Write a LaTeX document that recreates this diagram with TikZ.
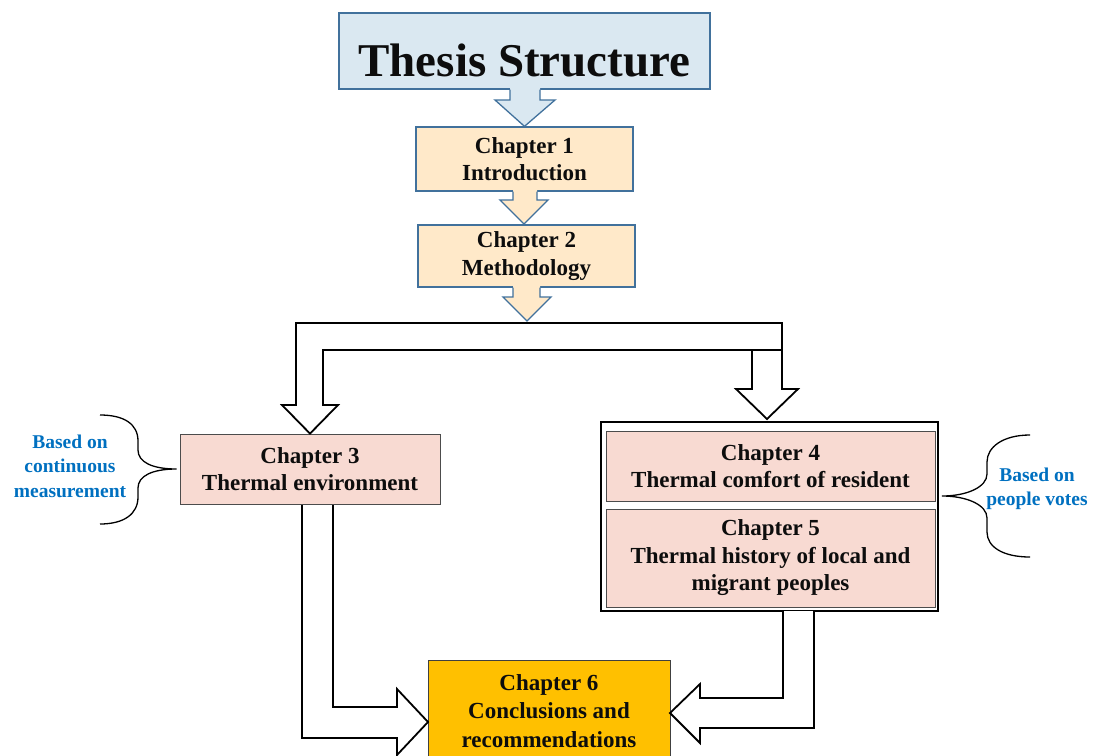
\documentclass[tikz,border=0pt]{standalone}
\usepackage{fontspec}
\setmainfont{Liberation Serif}
\usetikzlibrary{calc}
\definecolor{titlefill}{HTML}{DAE8F1}
\definecolor{steel}{HTML}{41719C}
\definecolor{peach}{HTML}{FFE9C9}
\definecolor{pinkfill}{HTML}{F8DAD2}
\definecolor{goldfill}{HTML}{FFC000}
\definecolor{noteblue}{HTML}{0070C0}
\begin{document}
\begin{tikzpicture}[x=1pt,y=-1pt,
  titlebox/.style={draw=steel, fill=titlefill, line width=1.5pt, inner sep=0pt,
    minimum width=371pt, minimum height=76pt, text=black!95,
    font=\fontsize{47}{50}\selectfont\bfseries, text height=50pt, text depth=0pt},
  chapbox/.style={draw=steel, fill=peach, line width=1.3pt, inner sep=0pt, align=center,
    text=black!95, font=\fontsize{23}{27.5}\selectfont\bfseries},
  pinkbox/.style={draw=black!70, fill=pinkfill, line width=0.8pt, inner sep=0pt, align=center,
    text=black!95, font=\fontsize{23}{27.5}\selectfont\bfseries},
  groupbox/.style={draw=black, line width=1.8pt, inner sep=0pt},
  goldbox/.style={draw=black!75, fill=goldfill, line width=0.8pt, inner sep=0pt, align=center,
    text=black!95, font=\fontsize{23}{28.5}\selectfont\bfseries},
  note/.style={text=noteblue, align=center, font=\fontsize{19.5}{24.5}\selectfont\bfseries},
  hollow/.style={draw=black, fill=white, line width=1.8pt, line join=miter},
  bluearrow/.style={draw=steel, line width=1.3pt, line join=miter},
  bracepath/.style={draw=black, line width=1.3pt}
]
\useasboundingbox (0,0) rectangle (1094,755);

% boxes
\node[titlebox] (title) at (524.5,51) {Thesis Structure};
\node[chapbox, minimum width=217pt, minimum height=64pt] (ch1) at (524.5,159) {Chapter 1\\Introduction};
\node[chapbox, minimum width=217pt, minimum height=62pt] (ch2) at (526.5,256) {Chapter 2\\Methodology};
\node[pinkbox, minimum width=260pt, minimum height=70pt] (ch3) at (310,469) {Chapter 3\\Thermal environment};
\node[groupbox, minimum width=337pt, minimum height=189pt] (grp) at (769.5,516.5) {};
\node[pinkbox, minimum width=329pt, minimum height=70pt] (ch4) at (770.5,466) {Chapter 4\\Thermal comfort of resident};
\node[pinkbox, minimum width=329pt, minimum height=98pt] (ch5) at (770.5,558) {Chapter 5\\Thermal history of local and\\migrant peoples};
\node[goldbox, minimum width=242pt, minimum height=101pt] (ch6) at (549,711) {Chapter 6\\Conclusions and\\recommendations};

% notes
\node[note] (n1) at (70,466) {Based on\\continuous\\measurement};
\node[note] (n2) at (1037,489) {Based on\\people votes};

% braces
\draw[bracepath] (100,415) .. controls (124,415) and (138,424) .. (138,441) -- (138,450)
  .. controls (138,462) and (152,469) .. ($(ch3.west)+(-3,0)$)
  .. controls (152,469) and (138,476) .. (138,488) -- (138,497)
  .. controls (138,514) and (124,524) .. (100,524);
\draw[bracepath] (1030,435) .. controls (1003,435) and (987,447) .. (987,462) -- (987,474)
  .. controls (987,487) and (967,496) .. (942,496)
  .. controls (967,496) and (987,505) .. (987,518) -- (987,532)
  .. controls (987,547) and (1003,557) .. (1030,557);

% title -> ch1
\fill[titlefill] (510,88) -- (510,100) -- (495,100) -- (ch1.north) -- (555,100) -- (540,100) -- (540,88) -- cycle;
\draw[bluearrow] (510,89.5) -- (510,100) -- (495,100) -- (ch1.north) -- (555,100) -- (540,100) -- (540,89.5);
% ch1 -> ch2
\fill[peach] (513,190) -- (513,200) -- (500,200) -- (524,224) -- (548,200) -- (537,200) -- (537,190) -- cycle;
\draw[bluearrow] (513,191.5) -- (513,200) -- (500,200) -- (524,224) -- (548,200) -- (537,200) -- (537,191.5);
% ch2 -> split
\fill[peach] (513,286) -- (513,297) -- (503,297) -- (527,321) -- (551,297) -- (540,297) -- (540,286) -- cycle;
\draw[bluearrow] (513,287.5) -- (513,297) -- (503,297) -- (527,321) -- (551,297) -- (540,297) -- (540,287.5);

% split connector to ch3 and group
\draw[hollow] (ch3.north) -- (338,405) -- (323,405) -- (323,350) -- (752,350) -- (752,389) -- (736,389)
  -- (767,419) -- (798,389) -- (782,389) -- (782,323) -- (296,323) -- (296,405) -- (282,405) -- cycle;
\draw[black, line width=1.8pt] (752,350) -- (782,350);

% ch3 -> ch6
\fill[white] (302,505) -- (302,738) -- (397,738) -- (397,755) -- (428,722) -- (397,689) -- (397,707) -- (333,707) -- (333,505) -- cycle;
\draw[hollow, fill=none] (302,505) -- (302,738) -- (397,738) -- (397,755) -- (428,722) -- (397,689) -- (397,707) -- (333,707) -- (333,505);
% ch5 -> ch6
\fill[white] (783,611) -- (783,698) -- (700,698) -- (700,684) -- (670,713) -- (700,743) -- (700,728) -- (814,728) -- (814,611) -- cycle;
\draw[hollow, fill=none] (783,611) -- (783,698) -- (700,698) -- (700,684) -- (670,713) -- (700,743) -- (700,728) -- (814,728) -- (814,611);
\end{tikzpicture}
\end{document}
